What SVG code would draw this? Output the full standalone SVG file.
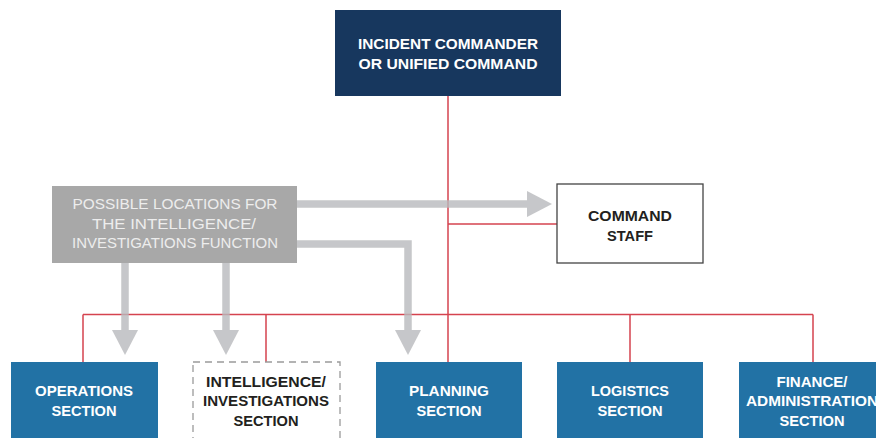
<svg xmlns="http://www.w3.org/2000/svg" width="876" height="438" viewBox="0 0 876 438">
<style>
  .t { font-family: "Liberation Sans", Arial, sans-serif; font-size: 15px; font-weight: bold; text-anchor: middle; }
  .w { fill: #ffffff; }
  .dk { fill: #231f20; }
  .g { fill: #ededed; font-weight: normal; }
  .sec { fill: #2272a5; }
  .red { stroke: #d5434f; stroke-width: 1.5; fill: none; }
  .arr { stroke: #b9babd; stroke-width: 7.5; fill: none; }
</style>
<defs>
  <marker id="ah" markerUnits="userSpaceOnUse" markerWidth="25" markerHeight="26" refX="0" refY="13" orient="auto">
    <path d="M0,0 L25,13 L0,26 Z" fill="#b9babd"/>
  </marker>
</defs>

<g id="connectors">
  <path class="red" d="M448,96 V362"/>
  <path class="red" d="M448,224 H557"/>
  <path class="red" d="M83,314.5 H813"/>
  <path class="red" d="M83,314.5 V362 M266,314.5 V362 M630,314.5 V362 M813,314.5 V362"/>
</g>

<g id="incident-commander">
  <rect x="335" y="10" width="226" height="86" fill="#17375e"/>
  <text class="t w" x="448" y="49" textLength="180" lengthAdjust="spacingAndGlyphs">INCIDENT COMMANDER</text>
  <text class="t w" x="448" y="69" textLength="179" lengthAdjust="spacingAndGlyphs">OR UNIFIED COMMAND</text>
</g>

<g id="possible-locations">
  <rect x="52" y="186" width="245" height="77" fill="#a8a8a8"/>
  <text class="t g" x="175" y="209" textLength="205" lengthAdjust="spacingAndGlyphs">POSSIBLE LOCATIONS FOR</text>
  <text class="t g" x="174" y="229" textLength="164" lengthAdjust="spacingAndGlyphs">THE INTELLIGENCE/</text>
  <text class="t g" x="175" y="248" textLength="206" lengthAdjust="spacingAndGlyphs">INVESTIGATIONS FUNCTION</text>
</g>

<g id="command-staff">
  <rect x="557" y="184" width="146" height="79" fill="#ffffff" stroke="#444444" stroke-width="1.3"/>
  <text class="t dk" x="630" y="221" textLength="84" lengthAdjust="spacingAndGlyphs">COMMAND</text>
  <text class="t dk" x="630" y="241" textLength="46" lengthAdjust="spacingAndGlyphs">STAFF</text>
</g>

<g id="operations-section">
  <rect class="sec" x="11" y="362" width="147" height="80"/>
  <text class="t w" x="84" y="396" textLength="98" lengthAdjust="spacingAndGlyphs">OPERATIONS</text>
  <text class="t w" x="84" y="416" textLength="65" lengthAdjust="spacingAndGlyphs">SECTION</text>
</g>

<g id="intelligence-section">
  <rect x="193" y="362" width="147" height="80" fill="#ffffff" stroke="#9a9a9a" stroke-width="1.3" stroke-dasharray="7 5"/>
  <text class="t dk" x="266" y="387" textLength="120" lengthAdjust="spacingAndGlyphs">INTELLIGENCE/</text>
  <text class="t dk" x="266" y="406" textLength="126" lengthAdjust="spacingAndGlyphs">INVESTIGATIONS</text>
  <text class="t dk" x="266" y="426" textLength="65" lengthAdjust="spacingAndGlyphs">SECTION</text>
</g>

<g id="planning-section">
  <rect class="sec" x="376" y="362" width="146" height="80"/>
  <text class="t w" x="449" y="396" textLength="80" lengthAdjust="spacingAndGlyphs">PLANNING</text>
  <text class="t w" x="449" y="416" textLength="65" lengthAdjust="spacingAndGlyphs">SECTION</text>
</g>

<g id="logistics-section">
  <rect class="sec" x="557" y="362" width="146" height="80"/>
  <text class="t w" x="630" y="396" textLength="78" lengthAdjust="spacingAndGlyphs">LOGISTICS</text>
  <text class="t w" x="630" y="416" textLength="65" lengthAdjust="spacingAndGlyphs">SECTION</text>
</g>

<g id="finance-section">
  <rect class="sec" x="739" y="362" width="146" height="80"/>
  <text class="t w" x="812" y="387" textLength="71" lengthAdjust="spacingAndGlyphs">FINANCE/</text>
  <text class="t w" x="812" y="406" textLength="132" lengthAdjust="spacingAndGlyphs">ADMINISTRATION</text>
  <text class="t w" x="812" y="426" textLength="65" lengthAdjust="spacingAndGlyphs">SECTION</text>
</g>

<g id="possible-location-arrows" opacity="0.8">
  <path class="arr" d="M297,204 H527" marker-end="url(#ah)"/>
  <path class="arr" d="M297,244 H408 V330" marker-end="url(#ah)"/>
  <path class="arr" d="M125,263 V330" marker-end="url(#ah)"/>
  <path class="arr" d="M226,263 V330" marker-end="url(#ah)"/>
</g>
</svg>
